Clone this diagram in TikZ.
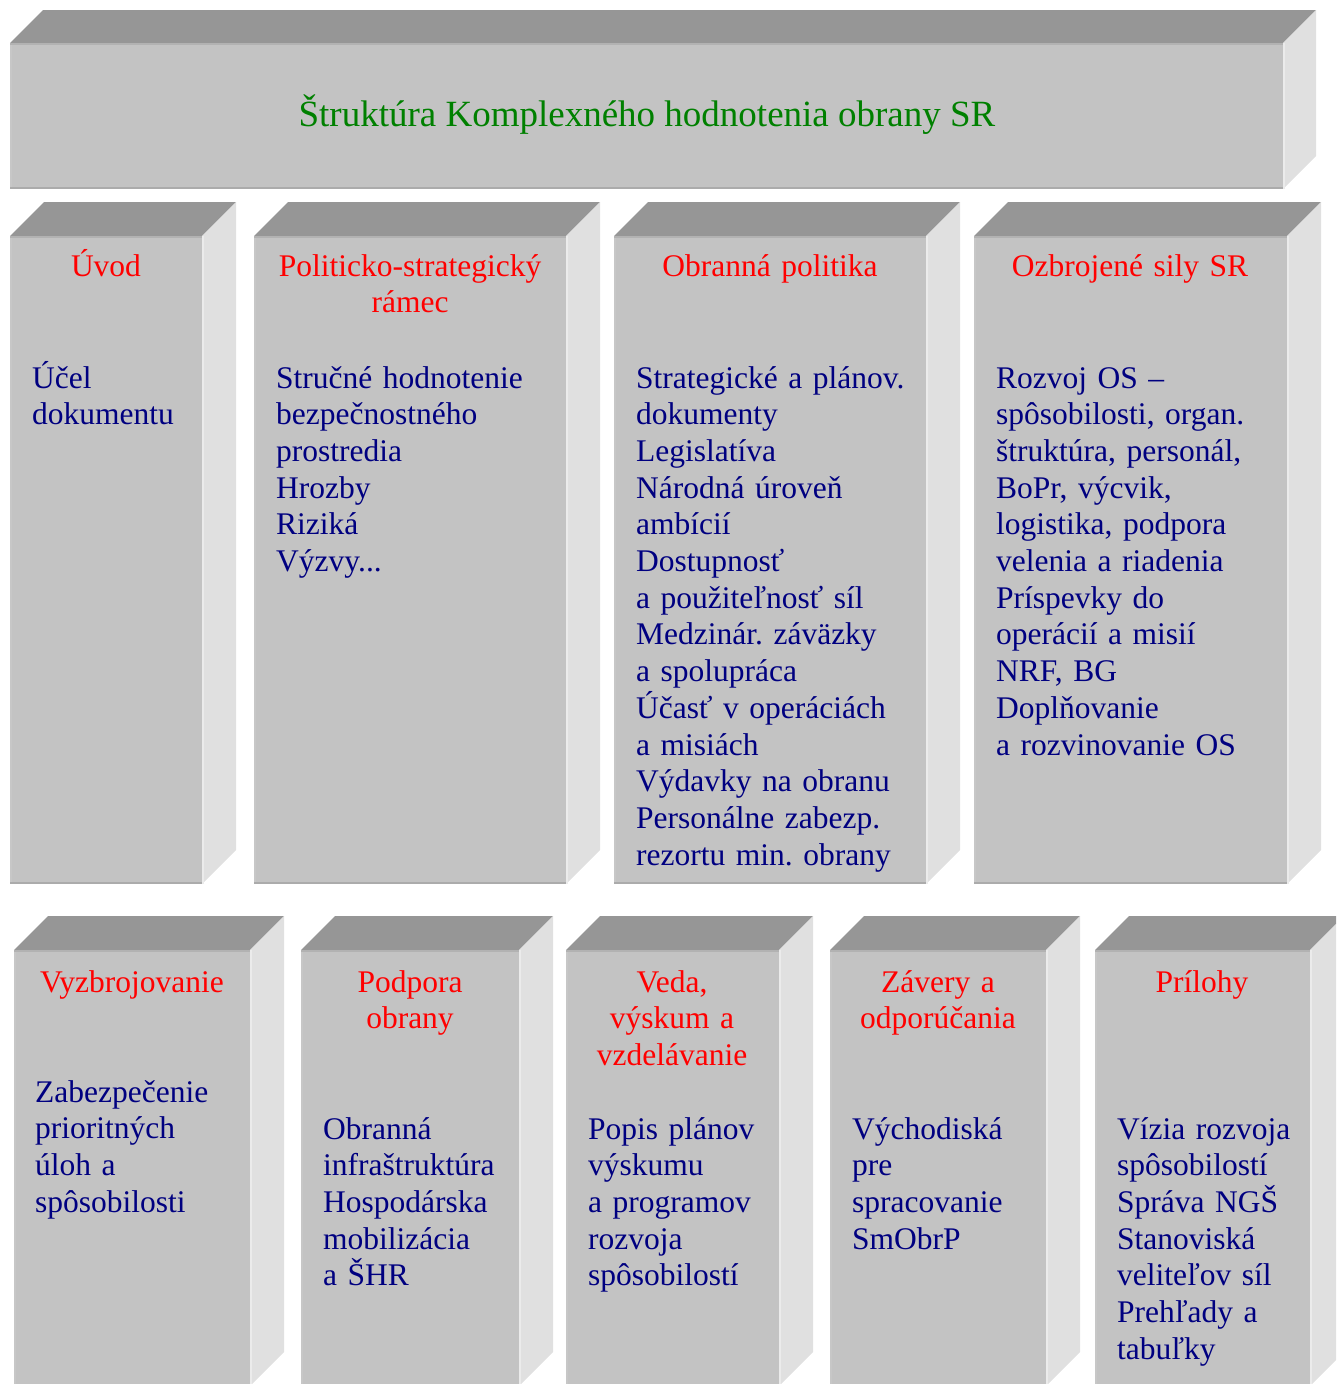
\documentclass[tikz,border=0pt]{standalone}
\usepackage{fontspec}
\setmainfont{Liberation Serif}
\frenchspacing
\definecolor{frontgray}{HTML}{C3C3C3}
\definecolor{topgray}{HTML}{969696}
\definecolor{sidegray}{HTML}{E0E0E0}
\definecolor{headred}{HTML}{FF0000}
\definecolor{bodyblue}{HTML}{000080}
\definecolor{titlegreen}{HTML}{008000}
% x1, y1, x2, y2, depth: front face corners and extrusion depth
\newcommand\cuboid[5]{%
  \fill[frontgray] (#1,#2) rectangle (#3,#4);
  \fill[topgray] (#1,#2) -- (#1+#5,#2-#5) -- (#3+#5,#2-#5) -- (#3,#2) -- cycle;
  \fill[sidegray] (#3,#2) -- (#3+#5,#2-#5) -- (#3+#5,#4-#5) -- (#3,#4) -- cycle;
  \draw[line width=2pt,color=black!22] (#1+1,#2+1) -- (#1+1,#4-1);
  \draw[line width=2pt,color=black!30] (#1,#2+1) -- (#3,#2+1);
  \draw[line width=2pt,color=black!33] (#1,#4-1) -- (#3,#4-1);
  \draw[line width=2pt,color=black!8] (#3+1,#2) -- (#3+1,#4);
}
\tikzset{
  txt/.style={inner sep=0pt, font=\fontsize{31.5}{36.7}\selectfont},
  head/.style={txt, text=headred, align=center, anchor=base, text width=320pt},
  body/.style={txt, text=bodyblue, align=left, anchor=base west, text width=300pt},
}
\begin{document}
\begin{tikzpicture}[x=1pt,y=-1pt]
\useasboundingbox (0,0) rectangle (1336,1384);
\begin{scope}
\clip (0,0) rectangle (1336,1384);
% title slab
\cuboid{10}{43}{1283}{189}{33}
% first row
\cuboid{10}{236}{202}{884}{34}
\cuboid{254}{236}{566}{884}{34}
\cuboid{614}{236}{926}{884}{34}
\cuboid{974}{236}{1287}{884}{34}
% second row
\cuboid{14}{950}{250}{1386}{34}
\cuboid{301}{950}{519}{1386}{34}
\cuboid{566}{950}{779}{1386}{34}
\cuboid{830}{950}{1046}{1386}{34}
\cuboid{1095}{950}{1310}{1386}{34}
\end{scope}

\node[inner sep=0pt, font=\fontsize{37}{42}\selectfont, text=titlegreen, anchor=base] (title) at (647,126)
  {Štruktúra Komplexného hodnotenia obrany SR};

% first row texts
\node[head] (h1) at (106,276) {Úvod};
\node[body] (b1) at (32,388) {Účel\\dokumentu};

\node[head] (h2) at (410,276) {Politicko-strategický\\rámec};
\node[body] (b2) at (276,388) {Stručné hodnotenie\\bezpečnostného\\prostredia\\Hrozby\\Riziká\\Výzvy...};

\node[head] (h3) at (770,276) {Obranná politika};
\node[body] (b3) at (636,388) {Strategické a plánov.\\dokumenty\\Legislatíva\\Národná úroveň\\ambícií\\Dostupnosť\\a použiteľnosť síl\\Medzinár. záväzky\\a spolupráca\\Účasť v operáciách\\a misiách\\Výdavky na obranu\\Personálne zabezp.\\rezortu min. obrany};

\node[head] (h4) at (1130,276) {Ozbrojené sily SR};
\node[body] (b4) at (996,388) {Rozvoj OS –\\spôsobilosti, organ.\\štruktúra, personál,\\BoPr, výcvik,\\logistika, podpora\\velenia a riadenia\\Príspevky do\\operácií a misií\\NRF, BG\\Doplňovanie\\a rozvinovanie OS};

% second row texts
\node[head] (h5) at (132,992) {Vyzbrojovanie};
\node[body] (b5) at (35,1102) {Zabezpečenie\\prioritných\\úloh a\\spôsobilosti};

\node[head] (h6) at (410,992) {Podpora\\obrany};
\node[body] (b6) at (323,1139) {Obranná\\infraštruktúra\\Hospodárska\\mobilizácia\\a ŠHR};

\node[head] (h7) at (672,992) {Veda,\\výskum a\\vzdelávanie};
\node[body] (b7) at (588,1139) {Popis plánov\\výskumu\\a programov\\rozvoja\\spôsobilostí};

\node[head] (h8) at (938,992) {Závery a\\odporúčania};
\node[body] (b8) at (852,1139) {Východiská\\pre\\spracovanie\\SmObrP};

\node[head] (h9) at (1202,992) {Prílohy};
\node[body] (b9) at (1117,1139) {Vízia rozvoja\\spôsobilostí\\Správa NGŠ\\Stanoviská\\veliteľov síl\\Prehľady a\\tabuľky};
\end{tikzpicture}
\end{document}
